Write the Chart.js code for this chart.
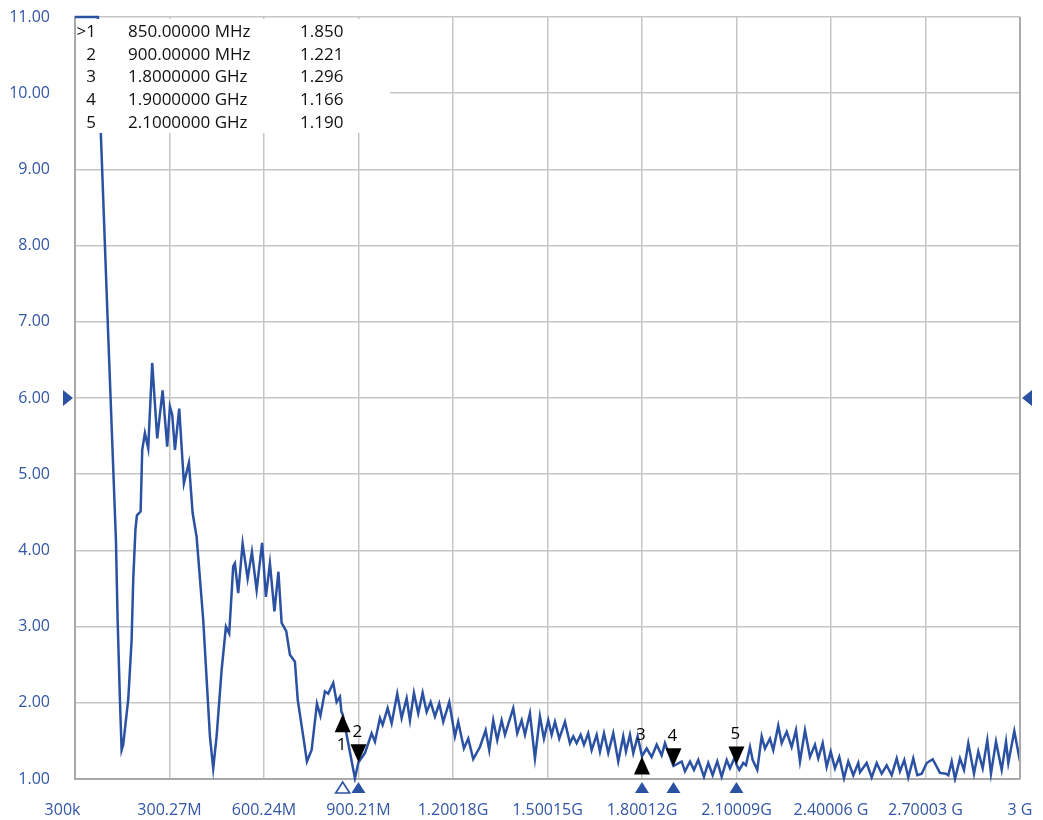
<!DOCTYPE html>
<html>
<head>
<meta charset="utf-8">
<script src="https://cdn.jsdelivr.net/npm/chart.js@4.4.1/dist/chart.umd.min.js"></script>
<style>
  html, body { margin: 0; padding: 0; background: #fff; }
  #vswr { display: block; }
</style>
</head>
<body>
<canvas id="vswr" width="1043" height="820"></canvas>
<script>
// trace, frequency in MHz and VSWR
const freqMHz = [
  0.3, 73, 82.5, 105.7, 130.2, 135.6, 142.9, 148.3, 153.3, 169.2,
  180.0, 185.1, 192.1, 196.8, 208.6, 213.7, 222.2, 232.7, 245.4, 261.3,
  278.4, 293.0, 301.6, 308.9, 317.5, 331.1, 346.0, 361.9, 373.7, 386.3,
  407.3, 428.6, 439.0, 449.8, 465.7, 479.4, 489.8, 502.5, 507.9, 518.4,
  532.4, 548.3, 561.9, 576.8, 594.3, 606.3, 619.0, 633.3, 646.0, 656.2,
  670.8, 682.5, 698.4, 707.3, 724.8, 736.5, 751.4, 768.3, 779.4, 793.7,
  804.1, 820.0, 830.8, 841.3, 846.0, 850.0, 888.9, 900.0, 920.6, 941.9,
  952.4, 968.3, 976.8, 992.7, 1005.4, 1023.2, 1037.1, 1053.0, 1063.5, 1076.2,
  1089.8, 1103.8, 1116.5, 1129.2, 1142.9, 1156.5, 1169.2, 1188.3, 1206.3, 1216.8,
  1234.9, 1248.6, 1264.4, 1285.7, 1303.8, 1315.2, 1327.9, 1340.6, 1354.6, 1365.1,
  1391.4, 1404.1, 1418.1, 1428.6, 1444.4, 1460.3, 1476.2, 1488.9, 1502.5, 1513.3,
  1523.8, 1537.5, 1555.6, 1571.4, 1581.9, 1592.7, 1605.4, 1615.9, 1629.5, 1640.3,
  1656.2, 1666.7, 1679.4, 1693.0, 1708.9, 1724.8, 1740.6, 1749.2, 1761.9, 1772.4,
  1786.3, 1800.0, 1814.9, 1830.8, 1846.7, 1862.5, 1873.0, 1900.0, 1926.0, 1936.5,
  1952.4, 1965.1, 1978.7, 1996.8, 2010.5, 2024.4, 2039.0, 2053.0, 2068.9, 2079.4,
  2095.2, 2100.0, 2108.9, 2121.6, 2130.2, 2142.9, 2151.4, 2166.0, 2180.0, 2190.5,
  2206.3, 2216.8, 2232.7, 2243.5, 2259.4, 2275.2, 2288.9, 2301.6, 2317.5, 2333.3,
  2349.2, 2359.7, 2373.7, 2386.3, 2399.1, 2412.7, 2426.3, 2441.3, 2454.9, 2470.8,
  2486.6, 2492.1, 2513.3, 2529.2, 2545.1, 2561.0, 2576.8, 2592.7, 2608.6, 2619.0,
  2632.7, 2645.4, 2661.2, 2674.0, 2688.0, 2703.8, 2722.9, 2746.0, 2765.1, 2772.4,
  2783.2, 2793.7, 2809.5, 2822.2, 2835.9, 2854.0, 2867.6, 2881.6, 2896.2, 2907.9,
  2923.8, 2941.9, 2955.6, 2962.9, 2981.9, 3000.0
];
const vswr = [
  11.0, 11.0, 9.45, 6.83, 4.14, 3.09, 2.04, 1.38, 1.45, 2.04,
  2.82, 3.61, 4.27, 4.46, 4.51, 5.32, 5.54, 5.34, 6.46, 5.47,
  6.10, 5.36, 5.89, 5.78, 5.32, 5.86, 4.88, 5.15, 4.49, 4.18,
  3.09, 1.56, 1.14, 1.56, 2.43, 3.00, 2.91, 3.79, 3.83, 3.44,
  4.09, 3.63, 3.98, 3.48, 4.10, 3.39, 3.83, 3.20, 3.72, 3.05,
  2.94, 2.63, 2.54, 2.04, 1.56, 1.23, 1.38, 1.99, 1.83, 2.15,
  2.12, 2.26, 2.01, 2.08, 1.88, 1.85, 1.01, 1.22, 1.34, 1.60,
  1.49, 1.80, 1.71, 1.93, 1.73, 2.12, 1.80, 2.06, 1.77, 2.13,
  1.86, 2.13, 1.88, 2.01, 1.82, 1.99, 1.75, 2.01, 1.56, 1.75,
  1.40, 1.53, 1.26, 1.42, 1.64, 1.38, 1.77, 1.51, 1.77, 1.58,
  1.93, 1.60, 1.77, 1.58, 1.86, 1.27, 1.82, 1.53, 1.77, 1.58,
  1.75, 1.53, 1.75, 1.47, 1.56, 1.47, 1.58, 1.45, 1.60, 1.38,
  1.58, 1.36, 1.60, 1.34, 1.60, 1.23, 1.56, 1.36, 1.58, 1.34,
  1.56, 1.30, 1.40, 1.29, 1.45, 1.31, 1.47, 1.17, 1.23, 1.10,
  1.23, 1.12, 1.25, 1.03, 1.21, 1.05, 1.23, 1.03, 1.25, 1.14,
  1.29, 1.19, 1.12, 1.21, 1.18, 1.42, 1.25, 1.12, 1.56, 1.40,
  1.53, 1.38, 1.70, 1.47, 1.62, 1.42, 1.64, 1.23, 1.64, 1.29,
  1.45, 1.27, 1.47, 1.16, 1.36, 1.14, 1.29, 1.01, 1.23, 1.05,
  1.21, 1.09, 1.21, 1.02, 1.21, 1.07, 1.18, 1.05, 1.27, 1.10,
  1.25, 1.02, 1.27, 1.05, 1.07, 1.21, 1.26, 1.08, 1.07, 1.05,
  1.23, 1.00, 1.27, 1.12, 1.47, 1.07, 1.36, 1.14, 1.51, 1.07,
  1.49, 1.12, 1.49, 1.21, 1.63, 1.23
];

const xTickValues = [0.3, 300.27, 600.24, 900.21, 1200.18, 1500.15, 1800.12, 2100.09, 2400.06, 2700.03, 3000];
const xTickLabels = ['300k      ', '300.27M', '600.24M', '900.21M', '1.20018G', '1.50015G', '1.80012G', '2.10009G', '2.40006 G', '2.70003 G', '3 G'];

// markers
const markerFreqs = [850, 900, 1800, 1900, 2100];
const markerVals = [1.850, 1.221, 1.296, 1.166, 1.190];
const markerFreqText = ['850.00000 MHz', '900.00000 MHz', '1.8000000 GHz', '1.9000000 GHz', '2.1000000 GHz'];
const markerDirs = ['up', 'down', 'up', 'down', 'down'];
const activeMarker = 0;
const refLevel = 6;

const blue = '#2b51a3';
const labelBlue = '#3157a6';
const font = '"Open Sans", "Noto Sans", sans-serif';

const markerPlugin = {
  id: 'markers',
  afterDatasetsDraw(chart) {
    const { ctx, chartArea: a, scales: { x, y } } = chart;
    ctx.save();

    // right frame edge
    ctx.strokeStyle = '#a9a9a9';
    ctx.lineWidth = 2;
    ctx.beginPath();
    ctx.moveTo(a.right, a.top);
    ctx.lineTo(a.right, a.bottom);
    ctx.stroke();

    // marker table
    ctx.fillStyle = '#fff';
    ctx.fillRect(a.left + 1, a.top + 2, 314, 114);
    ctx.fillStyle = '#111';
    ctx.font = '17px ' + font;
    ctx.textBaseline = 'middle';
    markerFreqText.forEach((t, i) => {
      const ty = a.top + 15 + i * 22.8;
      ctx.textAlign = 'right';
      ctx.fillText((i === activeMarker ? '>' : '') + (i + 1), a.left + 21, ty);
      ctx.textAlign = 'left';
      ctx.fillText(t, a.left + 53, ty);
      ctx.fillText(markerVals[i].toFixed(3), a.left + 225, ty);
    });

    // marker flags on the trace
    markerFreqs.forEach((f, i) => {
      const px = x.getPixelForValue(f);
      const py = y.getPixelForValue(markerVals[i]);
      const up = markerDirs[i] === 'up';
      ctx.fillStyle = '#000';
      ctx.beginPath();
      ctx.moveTo(px, py);
      ctx.lineTo(px - 8, up ? py + 18 : py - 18);
      ctx.lineTo(px + 8, up ? py + 18 : py - 18);
      ctx.closePath();
      ctx.fill();

      ctx.font = '17px ' + font;
      ctx.textAlign = 'center';
      let ly;
      if (i === 0) ly = py + 31;
      else if (up) ly = py - 21;
      else ly = py - 30;
      ctx.fillText(String(i + 1), px - 1, ly);

      // small triangles under the axis
      const by = a.bottom + 3;
      ctx.beginPath();
      ctx.moveTo(px, by);
      ctx.lineTo(px - 7, by + 11);
      ctx.lineTo(px + 7, by + 11);
      ctx.closePath();
      if (i === activeMarker) {
        ctx.fillStyle = '#fff';
        ctx.fill();
        ctx.strokeStyle = blue;
        ctx.lineWidth = 1.6;
        ctx.stroke();
      } else {
        ctx.fillStyle = blue;
        ctx.fill();
      }
    });

    // reference level arrows
    const ry = y.getPixelForValue(refLevel);
    ctx.fillStyle = blue;
    ctx.beginPath();
    ctx.moveTo(a.left - 12, ry - 8);
    ctx.lineTo(a.left - 12, ry + 8);
    ctx.lineTo(a.left - 2, ry);
    ctx.closePath();
    ctx.fill();
    ctx.beginPath();
    ctx.moveTo(a.right + 12, ry - 8);
    ctx.lineTo(a.right + 12, ry + 8);
    ctx.lineTo(a.right + 2, ry);
    ctx.closePath();
    ctx.fill();

    ctx.restore();
  }
};

const points = freqMHz.map((f, i) => ({ x: f, y: vswr[i] }));

new Chart(document.getElementById('vswr').getContext('2d'), {
  type: 'line',
  data: {
    datasets: [{
      data: points,
      borderColor: blue,
      borderWidth: 2.5,
      pointRadius: 0,
      tension: 0,
      clip: 4
    }]
  },
  options: {
    responsive: false,
    animation: false,
    layout: { padding: { top: 17, right: 23, bottom: 0, left: 0 } },
    plugins: { legend: { display: false }, tooltip: { enabled: false } },
    scales: {
      x: {
        type: 'linear',
        min: 0.3,
        max: 3000,
        afterBuildTicks: s => { s.ticks = xTickValues.map(v => ({ value: v })); },
        afterFit: s => { s.height = 41; s.paddingLeft = 0; s.paddingRight = 0; },
        ticks: {
          callback: (v, i) => xTickLabels[i],
          color: labelBlue,
          font: { family: font, size: 16 },
          padding: 22,
          maxRotation: 0,
          autoSkip: false
        },
        grid: { color: '#c6c6c6', lineWidth: 1.5, drawTicks: false },
        border: { color: '#a9a9a9', width: 2 }
      },
      y: {
        min: 1,
        max: 11,
        afterFit: s => { s.width = 75; s.paddingTop = 0; s.paddingBottom = 0; },
        ticks: {
          stepSize: 1,
          callback: v => v.toFixed(2),
          color: labelBlue,
          font: { family: font, size: 16 },
          padding: 25
        },
        grid: { color: '#c6c6c6', lineWidth: 1.5, drawTicks: false },
        border: { color: '#a9a9a9', width: 2 }
      }
    }
  },
  plugins: [markerPlugin]
});
</script>
</body>
</html>
